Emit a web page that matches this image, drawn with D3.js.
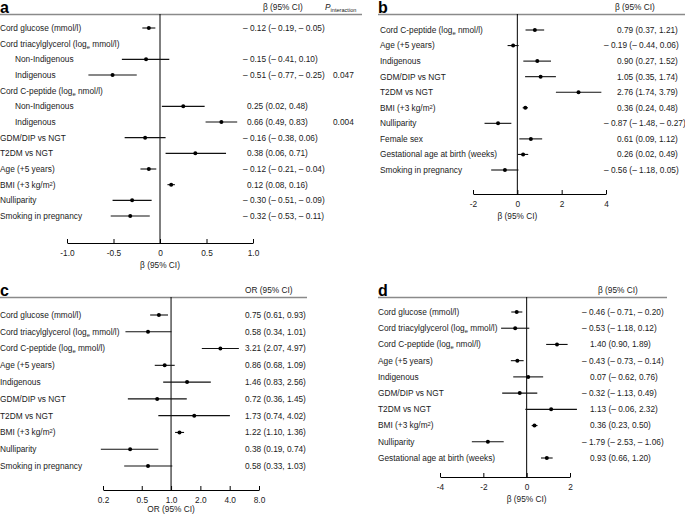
<!DOCTYPE html>
<html><head><meta charset="utf-8">
<script src="https://cdn.jsdelivr.net/npm/d3@7"></script>
<style>
body{margin:0;background:#fff;}
text{font-family:"Liberation Sans",Arial,sans-serif;fill:#1a1a1a;}
</style></head>
<body><svg id="c" width="685" height="516"></svg>
<script>
// ---------- DATA ----------
// Panel a (β, 95% CI); null = group heading row
const aLabels = ["Cord glucose (mmol/l)","Cord triacylglycerol (log_e mmol/l)","Non-Indigenous","Indigenous","Cord C-peptide (log_e nmol/l)","Non-Indigenous","Indigenous","GDM/DIP vs NGT","T2DM vs NGT","Age (+5 years)","BMI (+3 kg/m^2)","Nulliparity","Smoking in pregnancy"];
const aIndent = [0,0,1,1,0,1,1,0,0,0,0,0,0];
const aEst = [-0.12,null,-0.15,-0.51,null,0.25,0.66,-0.16,0.38,-0.12,0.12,-0.30,-0.32];
const aLo  = [-0.19,null,-0.41,-0.77,null,0.02,0.49,-0.38,0.06,-0.21,0.08,-0.51,-0.53];
const aHi  = [-0.05,null,0.10,-0.25,null,0.48,0.83,0.06,0.71,-0.04,0.16,-0.09,-0.11];
const aP   = [null,null,null,"0.047",null,null,"0.004",null,null,null,null,null,null];
const aTicks = [-1.0,-0.5,0,0.5,1.0];

// Panel b (β, 95% CI)
const bLabels = ["Cord C-peptide (log_e nmol/l)","Age (+5 years)","Indigenous","GDM/DIP vs NGT","T2DM vs NGT","BMI (+3 kg/m^2)","Nulliparity","Female sex","Gestational age at birth (weeks)","Smoking in pregnancy"];
const bEst = [0.79,-0.19,0.90,1.05,2.76,0.36,-0.87,0.61,0.26,-0.56];
const bLo  = [0.37,-0.44,0.27,0.35,1.74,0.24,-1.48,0.09,0.02,-1.18];
const bHi  = [1.21,0.06,1.52,1.74,3.79,0.48,-0.27,1.12,0.49,0.05];
const bTicks = [-2,0,2,4];

// Panel c (OR, 95% CI)
const cLabels = ["Cord glucose (mmol/l)","Cord triacylglycerol (log_e mmol/l)","Cord C-peptide (log_e mmol/l)","Age (+5 years)","Indigenous","GDM/DIP vs NGT","T2DM vs NGT","BMI (+3 kg/m^2)","Nulliparity","Smoking in pregnancy"];
const cEst = [0.75,0.58,3.21,0.86,1.46,0.72,1.73,1.22,0.38,0.58];
const cLo  = [0.61,0.34,2.07,0.68,0.83,0.36,0.74,1.10,0.19,0.33];
const cHi  = [0.93,1.01,4.97,1.09,2.56,1.45,4.02,1.36,0.74,1.03];
const cTicks = [0.2,0.5,1.0,2.0,4.0,8.0];

// Panel d (β, 95% CI)
const dLabels = ["Cord glucose (mmol/l)","Cord triacylglycerol (log_e mmol/l)","Cord C-peptide (log_e nmol/l)","Age (+5 years)","Indigenous","GDM/DIP vs NGT","T2DM vs NGT","BMI (+3 kg/m^2)","Nulliparity","Gestational age at birth (weeks)"];
const dEst = [-0.46,-0.53,1.40,-0.43,0.07,-0.32,1.13,0.36,-1.79,0.93];
const dLo  = [-0.71,-1.18,0.90,-0.73,-0.62,-1.13,-0.06,0.23,-2.53,0.66];
const dHi  = [-0.20,0.12,1.89,-0.14,0.76,0.49,2.32,0.50,-1.06,1.20];
const dTicks = [-4,-2,0,2];

// ---------- DRAW ----------
const svg = d3.select("#c");
const FS = 8.3;

function richText(sel, s){
  // supports _x (subscript) and ^x (superscript)
  const re = /(_|\^)(\w)/g; let last=0, m;
  while((m=re.exec(s))){
    if(m.index>last) sel.append("tspan").text(s.slice(last,m.index));
    sel.append("tspan").text(m[2]).attr("font-size",FS*0.7)
      .attr("baseline-shift", m[1]==="_" ? "-25%" : "40%");
    last = re.lastIndex;
  }
  if(last<s.length) sel.append("tspan").text(s.slice(last));
}
const f2 = v => (v<0 ? "\u2013 " : "") + Math.abs(v).toFixed(2);
const fmtCI = (e,l,h) => `${f2(e)} (${f2(l)}, ${f2(h)})`;

function panel(o){
  const g = svg.append("g");
  const x = o.log ? d3.scaleLog().domain(o.domain).range(o.xr)
                  : d3.scaleLinear().domain(o.domain).range(o.xr);
  const y = d3.scalePoint().domain(d3.range(o.labels.length)).range(o.yr);
  // panel letter
  g.append("text").attr("x",o.letterX).attr("y",o.headY-1).attr("font-size",16)
    .attr("font-weight","bold").style("fill","#000").text(o.letter);
  // header rule
  g.append("line").attr("x1",o.ruleX[0]).attr("x2",o.ruleX[1])
    .attr("y1",o.headY+0.5).attr("y2",o.headY+0.5).attr("stroke","#8a8a8a").attr("stroke-width",1.5);
  g.append("text").attr("x",o.headX).attr("y",o.headY-4).attr("font-size",FS).text(o.head);
  // reference line
  g.append("line").attr("x1",x(o.ref)).attr("x2",x(o.ref))
    .attr("y1",o.headY).attr("y2",o.axisY).attr("stroke","#000").attr("stroke-width",1);
  // axis
  const ax = d3.axisBottom(x).tickValues(o.ticks).tickSizeInner(-4).tickSizeOuter(0)
    .tickPadding(7).tickFormat(o.tickFmt);
  const ag = g.append("g").attr("transform",`translate(0,${o.axisY})`).call(ax);
  ag.select(".domain").attr("stroke","#000");
  ag.selectAll(".tick line").attr("stroke","#000");
  ag.selectAll(".tick text").attr("font-size",FS).attr("font-family","Liberation Sans, Arial, sans-serif").style("fill","#1a1a1a");
  g.append("text").attr("x",x(o.ref)).attr("y",o.axisY+o.titleDy).attr("text-anchor","middle")
    .attr("font-size",FS).text(o.axisTitle);
  // rows
  o.labels.forEach((lab,i)=>{
    const yy = y(i);
    const t = g.append("text").attr("x",o.labelX + (o.indent && o.indent[i] ? 15 : 0))
      .attr("y",yy).attr("dy","0.35em").attr("font-size",FS);
    richText(t, lab);
    const e = o.est[i];
    if(e==null) return;
    g.append("line").attr("x1",x(o.lo[i])).attr("x2",x(o.hi[i])).attr("y1",yy).attr("y2",yy)
      .attr("stroke","#111").attr("stroke-width",1.1);
    g.append("circle").attr("cx",x(e)).attr("cy",yy).attr("r",2).attr("fill","#000");
    g.append("text").attr("x",o.valX + (e<0?0:o.valShift)).attr("y",yy).attr("dy","0.35em")
      .attr("font-size",FS).text(fmtCI(e,o.lo[i],o.hi[i]));
    if(o.p && o.p[i]) g.append("text").attr("x",o.pX).attr("y",yy).attr("dy","0.35em")
      .attr("font-size",FS).text(o.p[i]);
  });
  return g;
}

const tfA = d => d===0 ? "0" : d3.format(".1f")(d).replace("\u2212","-");
const tfI = d => d3.format("d")(d).replace("\u2212","-");

const ga = panel({letter:"a",letterX:0,headY:14,ruleX:[0,362],headX:263,head:"\u03B2 (95% CI)",
  domain:[-1,1],xr:[67,253],ref:0,yr:[28,216],axisY:243,titleDy:25,ticks:aTicks,tickFmt:tfA,
  axisTitle:"\u03B2 (95% CI)",labels:aLabels,indent:aIndent,est:aEst,lo:aLo,hi:aHi,
  labelX:0,valX:243,valShift:4,p:aP,pX:333});
// P interaction header
const ph = ga.append("text").attr("x",325).attr("y",10).attr("font-size",FS);
ph.append("tspan").attr("font-style","italic").text("P");
ph.append("tspan").attr("font-size",5.6).attr("baseline-shift","-25%").text("interaction");

panel({letter:"b",letterX:378,headY:14,ruleX:[378,685],headX:615,head:"\u03B2 (95% CI)",
  domain:[-2,4],xr:[473,606],ref:0,yr:[30,170],axisY:194,titleDy:25,ticks:bTicks,tickFmt:tfI,
  axisTitle:"\u03B2 (95% CI)",labels:bLabels,est:bEst,lo:bLo,hi:bHi,
  labelX:380,valX:604,valShift:13});

panel({letter:"c",letterX:0,headY:297,ruleX:[0,307],headX:245,head:"OR (95% CI)",log:true,
  domain:[0.2,8],xr:[103,259],ref:1,yr:[315,466],axisY:490,titleDy:22,ticks:cTicks,
  tickFmt:d3.format(".1f"),axisTitle:"OR (95% CI)",labels:cLabels,est:cEst,lo:cLo,hi:cHi,
  labelX:0,valX:245,valShift:0});

panel({letter:"d",letterX:378,headY:297,ruleX:[378,667],headX:598,head:"\u03B2 (95% CI)",
  domain:[-4,2],xr:[440,570],ref:0,yr:[312,458],axisY:477,titleDy:25,ticks:dTicks,tickFmt:tfI,
  axisTitle:"\u03B2 (95% CI)",labels:dLabels,est:dEst,lo:dLo,hi:dHi,
  labelX:378,valX:582,valShift:8});
</script></body></html>
